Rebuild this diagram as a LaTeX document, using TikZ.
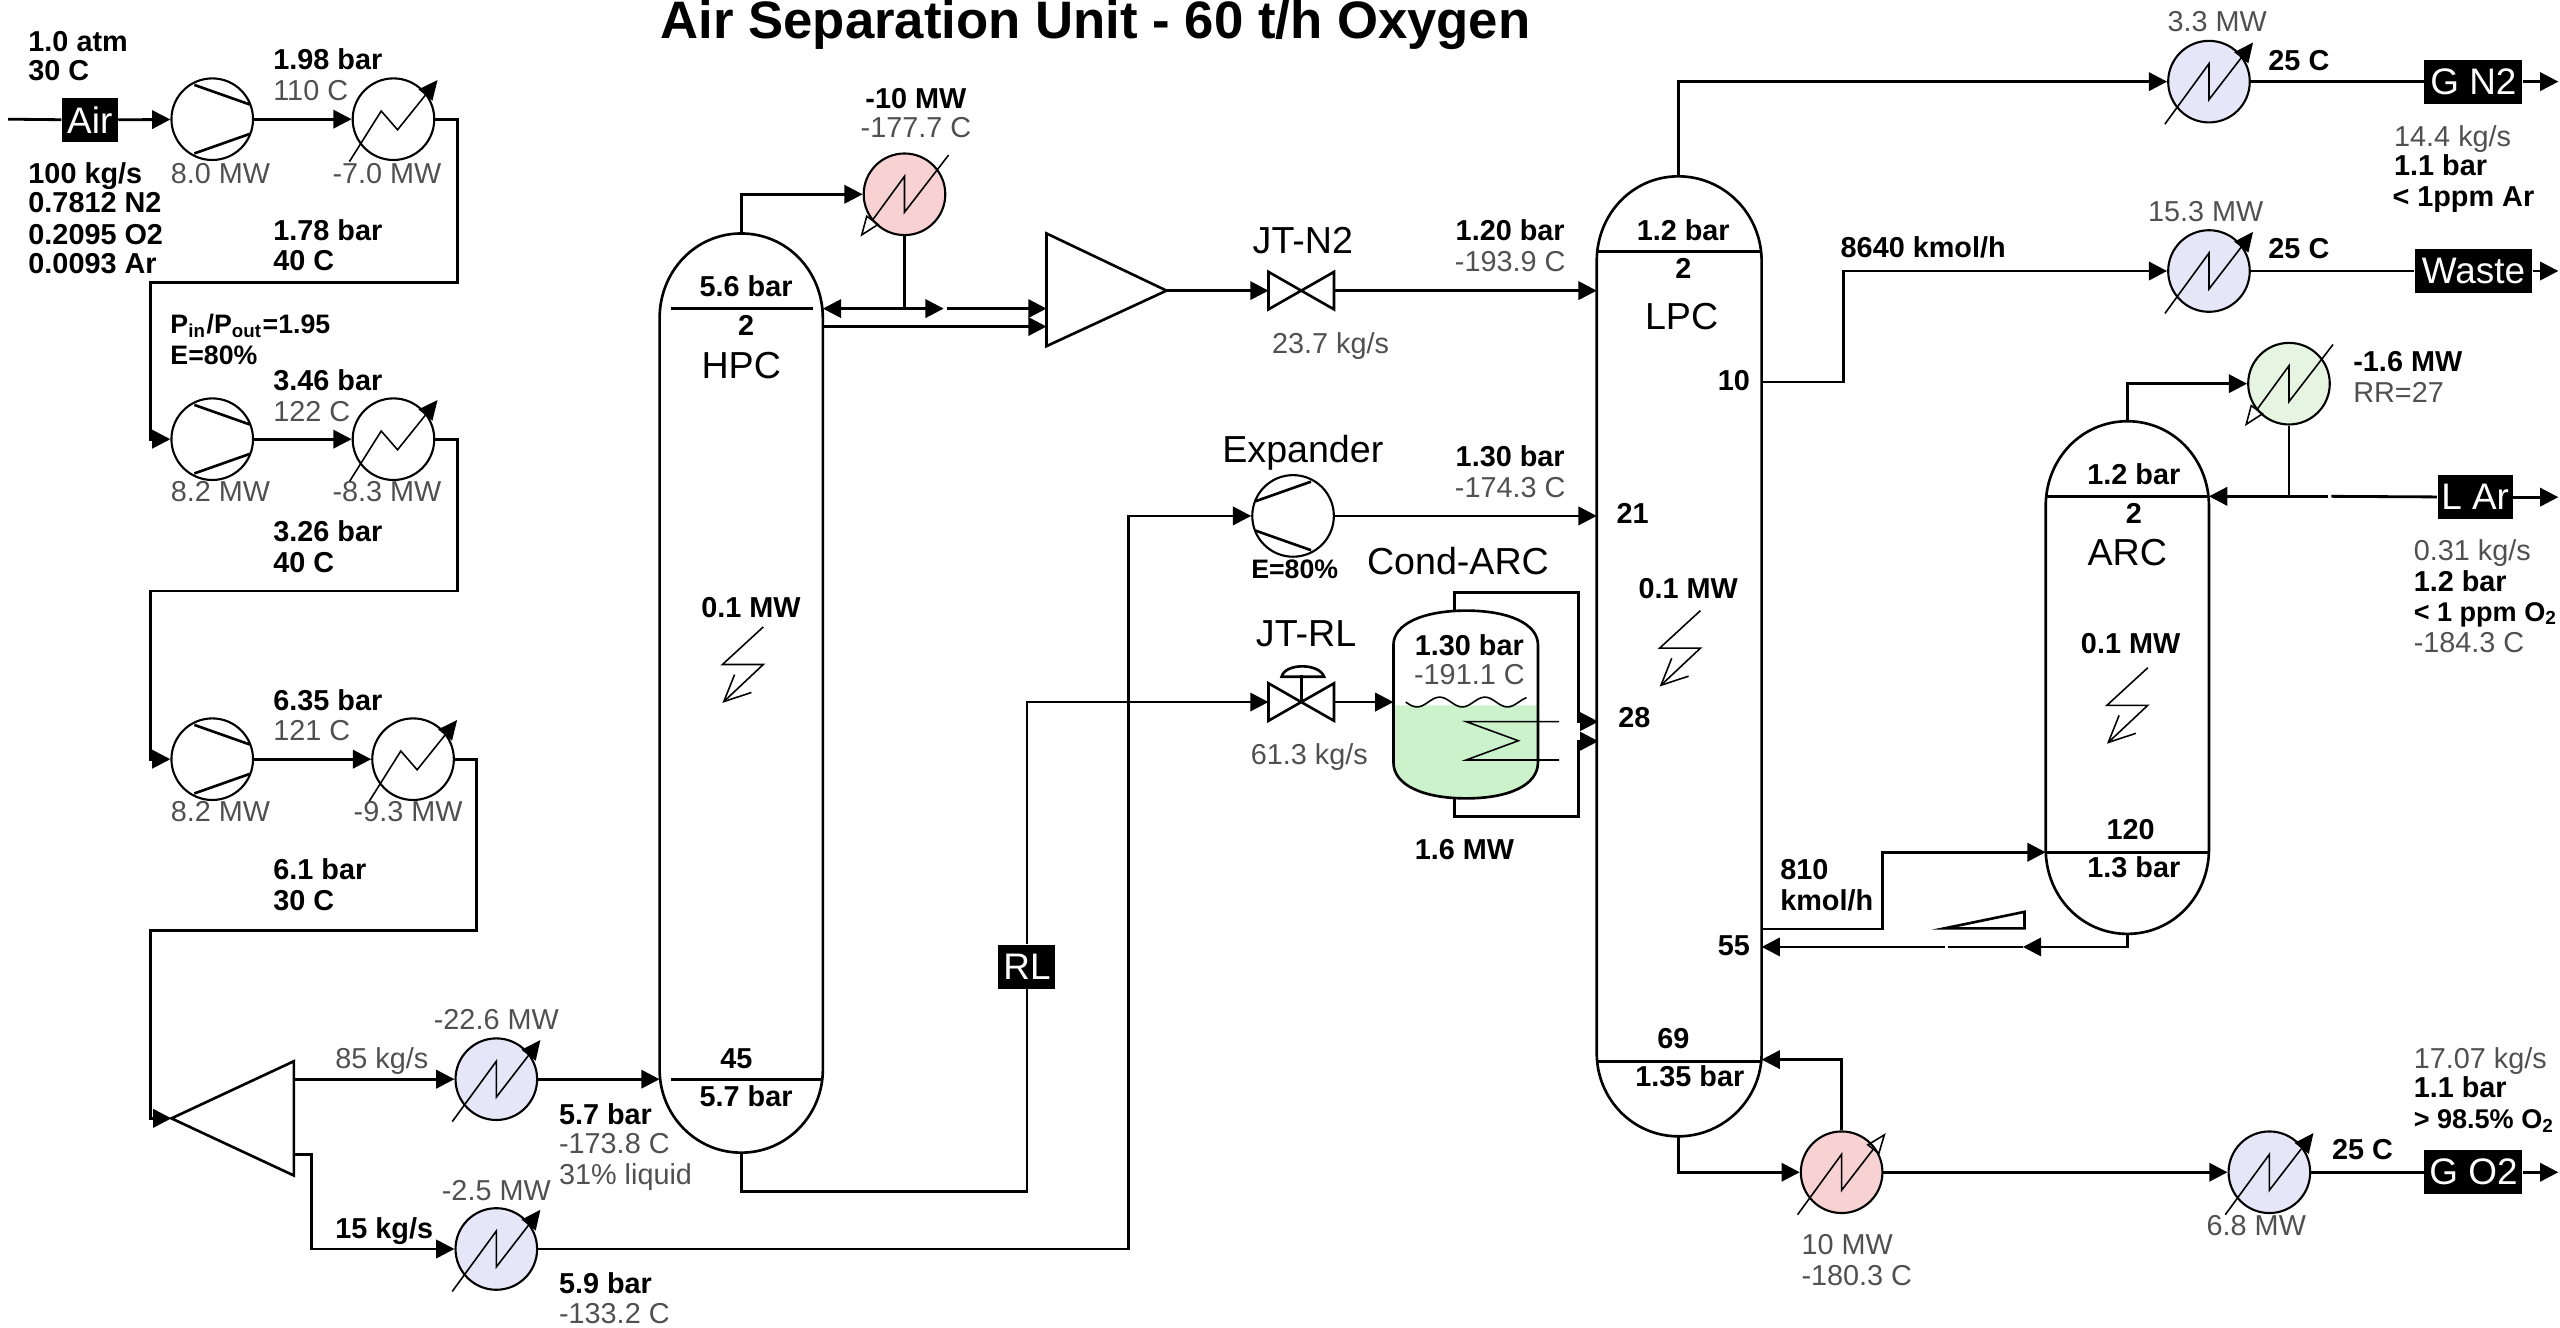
\documentclass[tikz,border=0pt]{standalone}
\usepackage{fontspec}
\setmainfont{Liberation Sans}
\usetikzlibrary{arrows.meta}
\definecolor{txtgray}{HTML}{505050}
\definecolor{hxblue}{HTML}{E6E6F8}
\definecolor{hxred}{HTML}{F8D2D2}
\definecolor{hxgreen}{HTML}{E6F4E2}
\definecolor{liquid}{HTML}{CBF2CB}
\tikzset{
  unit/.style={line width=0.75pt},
  line/.style={line width=0.8pt},
  flow/.style={line width=0.8pt,-{Triangle[length=5.2pt,width=5.2pt]}},
  coil/.style={line width=0.45pt},
  hx/.style={circle,draw,line width=0.6pt,inner sep=0pt,minimum size=0.816cm},
  valvebox/.style={inner sep=0pt,minimum width=0.64cm,minimum height=0.36cm},
  stream/.style={fill=black,text=white,inner sep=0pt,minimum height=0.44cm,font=\fontsize{10.5}{12}\selectfont},
  lb/.style={inner sep=0pt,text height=6pt,text depth=0pt,anchor=west,font=\fontsize{8.2}{10}\selectfont\bfseries},
  lv/.style={inner sep=0pt,text height=6pt,text depth=0pt,anchor=west,text=txtgray,font=\fontsize{8.2}{10}\selectfont},
  cb/.style={lb,anchor=center},
  cv/.style={lv,anchor=center},
  big/.style={inner sep=0pt,text height=7.5pt,text depth=0pt,font=\fontsize{10.7}{12}\selectfont},
}
\newcommand{\cooler}[3]{
  \node[hx,fill=#3] (#1) at (#2) {};
  \draw[coil,-{Triangle[length=5.5pt,width=5pt]}] ([shift={(-27,26)}]#1.center) -- ([shift={(0,-11)}]#1.center) -- ([shift={(0,11)}]#1.center) -- ([shift={(27,-24)}]#1.center);
}
\newcommand{\aircooler}[2]{
  \node[hx,fill=white] (#1) at (#2) {};
  \draw[coil,-{Triangle[length=5.5pt,width=5pt]}] ([shift={(-27,26)}]#1.center) -- ([shift={(-7.5,-5)}]#1.center) -- ([shift={(2.5,6.5)}]#1.center) -- ([shift={(27,-24)}]#1.center);
}
\newcommand{\reboiler}[3]{
  \node[hx,fill=#3] (#1) at (#2) {};
  \draw[coil,-{Triangle[open,length=6pt,width=4.5pt]}] ([shift={(-27,26)}]#1.center) -- ([shift={(0,-11)}]#1.center) -- ([shift={(0,11)}]#1.center) -- ([shift={(27,-24)}]#1.center);
}
\newcommand{\condenser}[3]{
  \node[hx,fill=#3] (#1) at (#2) {};
  \draw[coil,-{Triangle[open,length=6pt,width=4.5pt]}] ([shift={(27,-24)}]#1.center) -- ([shift={(0,11)}]#1.center) -- ([shift={(0,-11)}]#1.center) -- ([shift={(-27,26)}]#1.center);
}
\newcommand{\compressor}[2]{
  \node[hx] (#1) at (#2) {};
  \draw[unit] ([shift={(-11,-21)}]#1.center) -- ([shift={(23,-9)}]#1.center);
  \draw[unit] ([shift={(-11,21)}]#1.center) -- ([shift={(23,9)}]#1.center);
}
\newcommand{\heatleak}[2]{
  \coordinate (#1) at (#2);
  \draw[coil,-{Straight Barb[length=7.5pt,width=7pt]}] ([shift={(12.5,-23)}]#1) -- ([shift={(-12.5,0)}]#1) -- ([shift={(12.5,0)}]#1) -- ([shift={(-12.5,23.5)}]#1);
}
\begin{document}
\begin{tikzpicture}[x=0.0163265cm,y=-0.0163265cm]
\useasboundingbox (0,0) rectangle (1568,813);

% Title
\node[inner sep=0pt,text height=10.8pt,text depth=0pt,font=\fontsize{15}{17}\selectfont\bfseries] (title) at (671,12) {Air Separation Unit - 60 t/h Oxygen};

% Air train
\coordinate (airIn) at (5,73);
\node[stream,minimum width=0.555cm] (air) at (55,73.5) {Air};
\compressor{compA}{130,73}
\aircooler{coolA}{241,73}
\compressor{compB}{130,269}
\aircooler{coolB}{241,269}
\compressor{compC}{130,465}
\aircooler{coolC}{253,465}
\coordinate (jA1) at (280,173);
\coordinate (jA2) at (92,173);
\coordinate (jB1) at (280,362);
\coordinate (jB2) at (92,362);
\coordinate (jC1) at (292,570);
\coordinate (jC2) at (92,570);
\draw[line] (airIn) -- (air);
\draw[flow] (air) -- (compA);
\draw[flow] (compA) -- (coolA);
\draw[flow] (coolA) -| (jA1) -- (jA2) |- (compB);
\draw[flow] (compB) -- (coolB);
\draw[flow] (coolB) -| (jB1) -- (jB2) |- (compC);
\draw[flow] (compC) -- (coolC);

% Splitter
\coordinate (spIn) at (105,685);
\coordinate (spHi) at (180,661);
\coordinate (spLo) at (180,707);
\draw[unit] (spIn) -- (180,650) -- (180,720) -- cycle;
\draw[flow] (coolC) -| (jC1) -- (jC2) |- (spIn);
\cooler{coolD}{304,661}{hxblue}
\cooler{coolE}{304,765}{hxblue}
\coordinate (jS) at (191,740);
\coordinate (jE) at (691,400);
\draw[flow] (spHi) -- (coolD);
\draw[flow] (spLo) -| (jS) |- (coolE);

% HPC
\draw[unit] (404,195) .. controls (404,166) and (426,143) .. (454,143) .. controls (482,143) and (504,166) .. (504,195) -- (504,655) .. controls (504,683) and (482,706) .. (454,706) .. controls (426,706) and (404,683) .. (404,655) -- cycle;
\draw[unit] (411,189) -- (498,189);
\draw[unit] (411,661) -- (504,661);
\coordinate (hpcTop) at (454,143);
\coordinate (hpcBot) at (454,706);
\coordinate (hpcFeed) at (404,661);
\coordinate (hpcRefl) at (504,189);
\coordinate (hpcOut) at (504,200);
\heatleak{leakH}{455,407}
\draw[flow] (coolD) -- (hpcFeed);
\condenser{cdH}{554,119}{hxred}
\coordinate (hpcRet) at (554,189);
\coordinate (gapA) at (578,189);
\coordinate (gapB) at (580,189);
\draw[flow] (hpcTop) |- (cdH);
\draw[line] (cdH) -- (hpcRet);
\draw[flow] (hpcRet) -- (hpcRefl);
\draw[flow] (hpcRet) -- (gapA);

% Mixer and JT valve
\coordinate (mixA) at (641,189);
\coordinate (mixB) at (641,200);
\coordinate (mixOut) at (714.5,178);
\draw[unit] (641,143) -- (mixOut) -- (641,212) -- cycle;
\draw[flow] (gapB) -- (mixA);
\draw[flow] (hpcOut) -- (mixB);
\node[valvebox] (jtn) at (797,178) {};
\draw[unit] (jtn.south west) -- (jtn.north east) -- (jtn.south east) -- (jtn.north west) -- cycle;
\draw[flow] (mixOut) -- (jtn);

% LPC
\draw[unit] (978,160) .. controls (978,131) and (1000,108) .. (1028,108) .. controls (1056,108) and (1079,131) .. (1079,160) -- (1079,645) .. controls (1079,673) and (1056,696) .. (1028,696) .. controls (1000,696) and (978,673) .. (978,645) -- cycle;
\draw[unit] (978,154) -- (1079,154);
\draw[unit] (978,650) -- (1079,650);
\coordinate (lpcTop) at (1028,108);
\coordinate (lpcBot) at (1028,696);
\coordinate (lpcN) at (978,178);
\coordinate (lpcE) at (978,316);
\coordinate (lpcW) at (1079,234);
\coordinate (lpcD) at (1079,569);
\coordinate (lpcR) at (1079,580);
\coordinate (lpcB) at (1079,649);
\heatleak{leakL}{1029,397}
\draw[flow] (jtn) -- (lpcN);

% Expander
\node[hx] (expd) at (792,316) {};
\draw[unit] ([shift={(11,-21)}]expd.center) -- ([shift={(-23,-9)}]expd.center);
\draw[unit] ([shift={(11,21)}]expd.center) -- ([shift={(-23,9)}]expd.center);
\draw[flow] (coolE) -| (jE) |- (expd);
\draw[flow] (expd) -- (lpcE);

% Rich liquid
\node[stream,minimum width=0.57cm,font=\fontsize{10.5}{12}\selectfont] (rl) at (629,592) {RL};
\coordinate (jR) at (540,730);
\draw[line] (hpcBot) |- (jR) -| (rl);
\node[valvebox] (jtr) at (797,430) {};
\draw[unit] (jtr.south west) -- (jtr.north east) -- (jtr.south east) -- (jtr.north west) -- cycle;
\draw[unit] (jtr.center) -- (797,413.5);
\draw[unit] (785,414.5) .. controls (787,406) and (808,406) .. (811,414.5) -- cycle;
\draw[flow] (rl) |- (jtr);

% Cond-ARC
\fill[liquid] (853.5,432) -- (853.5,467) .. controls (853.5,481) and (872,489) .. (898,489) .. controls (924,489) and (942,481) .. (942,467) -- (942,432) -- cycle;
\draw[unit] (853.5,395) .. controls (853.5,382) and (872,374) .. (898,374) .. controls (924,374) and (942,382) .. (942,395) -- (942,467) .. controls (942,481) and (924,489) .. (898,489) .. controls (872,489) and (853.5,481) .. (853.5,467) -- cycle;
\draw[coil] plot[domain=861:935,samples=60] (\x,{430+3*sin(13*(\x-861))});
\draw[coil] (955,442) -- (898,442) -- (930,453.7) -- (898,465.5) -- (955,465.5);
\coordinate (tkIn) at (853.5,430);
\coordinate (tkTop) at (891,374);
\coordinate (tkBot) at (891,489);
\coordinate (tkA) at (967,363);
\coordinate (tkB) at (967,500);
\coordinate (lpcC) at (979,442);
\coordinate (lpcS) at (979,454);
\draw[flow] (jtr) -- (tkIn);
\draw[flow] (tkTop) |- (tkA) |- (lpcC);
\draw[flow] (tkBot) |- (tkB) |- (lpcS);

% ARC
\draw[unit] (1253,310) .. controls (1253,281) and (1275,258) .. (1303,258) .. controls (1331,258) and (1353,281) .. (1353,310) -- (1353,520) .. controls (1353,549) and (1331,572) .. (1303,572) .. controls (1275,572) and (1253,549) .. (1253,520) -- cycle;
\draw[unit] (1253,304) -- (1353,304);
\draw[unit] (1253,522) -- (1353,522);
\coordinate (arcTop) at (1303,258);
\coordinate (arcBot) at (1303,572);
\coordinate (arcF) at (1253,522);
\coordinate (arcR) at (1353,304);
\heatleak{leakA}{1303,432}
\coordinate (jD) at (1153,545);
\coordinate (pumpOut) at (1239,580);
\coordinate (gapC) at (1193,580);
\coordinate (gapD) at (1191,580);
\draw[flow] (lpcD) -| (jD) |- (arcF);
\draw[flow] (arcBot) |- (pumpOut);
\draw[line] (pumpOut) -- (gapC);
\draw[flow] (gapD) -- (lpcR);
\draw[unit] (1191,568.6) -- (1240,568.6) -- (1240,558.5) -- cycle;
\condenser{cdA}{1402,235}{hxgreen}
\coordinate (arJ) at (1402,304);
\coordinate (gapE) at (1428,304);
\coordinate (gapF) at (1426,304);
\coordinate (larOut) at (1567,304.5);
\node[stream,minimum width=0.75cm] (lar) at (1516,304.5) {L Ar};
\draw[flow] (arcTop) |- (cdA);
\draw[line] (cdA) -- (arJ);
\draw[line] (lar) -- (gapE);
\draw[flow] (gapF) -- (arcR);
\draw[flow] (lar) -- (larOut);

% Products
\cooler{hxN}{1353,50}{hxblue}
\cooler{hxW}{1353,166}{hxblue}
\reboiler{reb}{1128,718}{hxred}
\cooler{hxO}{1390,718}{hxblue}
\node[stream,minimum width=0.98cm] (gn) at (1515,50) {G N2};
\node[stream,minimum width=1.175cm] (waste) at (1515,166) {Waste};
\node[stream,minimum width=0.98cm] (go) at (1515,718) {G O2};
\coordinate (gnOut) at (1567,50);
\coordinate (wasteOut) at (1567,166);
\coordinate (goOut) at (1567,718);
\coordinate (jW) at (1129,200);
\draw[flow] (lpcTop) |- (hxN);
\draw[line] (hxN) -- (gn);
\draw[flow] (gn) -- (gnOut);
\draw[flow] (lpcW) -| (jW) |- (hxW);
\draw[line] (hxW) -- (waste);
\draw[flow] (waste) -- (wasteOut);
\draw[flow] (lpcBot) |- (reb);
\draw[flow] (reb) |- (lpcB);
\draw[flow] (reb) -- (hxO);
\draw[line] (hxO) -- (go);
\draw[flow] (go) -- (goOut);

% Labels air train
\node[lb] (tA1) at (17,25) {1.0 atm};
\node[lb] (tA2) at (17,43) {30 C};
\node[lb] (tA3) at (17,106) {100 kg/s};
\node[lb] (tA4) at (17,124) {0.7812 N2};
\node[lb] (tA5) at (17,143) {0.2095 O2};
\node[lb] (tA6) at (17,161) {0.0093 Ar};
\node[lb] (tB1) at (167,36) {1.98 bar};
\node[lv] (tB2) at (167,55) {110 C};
\node[cv] (tB3) at (135,106) {8.0 MW};
\node[cv] (tB4) at (237,106) {-7.0 MW};
\node[lb] (tB5) at (167,141) {1.78 bar};
\node[lb] (tB6) at (167,159) {40 C};
\node[lb,font=\fontsize{7.6}{9}\selectfont\bfseries] (tC1) at (104,198) {P\textsubscript{in}/P\textsubscript{out}=1.95};
\node[lb,font=\fontsize{7.6}{9}\selectfont\bfseries] (tC2) at (104,217) {E=80\%};
\node[lb] (tC3) at (167,233) {3.46 bar};
\node[lv] (tC4) at (167,252) {122 C};
\node[cv] (tC5) at (135,301) {8.2 MW};
\node[cv] (tC6) at (237,301) {-8.3 MW};
\node[lb] (tC7) at (167,325) {3.26 bar};
\node[lb] (tC8) at (167,344) {40 C};
\node[lb] (tD1) at (167,429) {6.35 bar};
\node[lv] (tD2) at (167,447) {121 C};
\node[cv] (tD3) at (135,497) {8.2 MW};
\node[cv] (tD4) at (250,497) {-9.3 MW};
\node[lb] (tD5) at (167,532) {6.1 bar};
\node[lb] (tD6) at (167,551) {30 C};

% Labels splitter branches
\node[lv] (tE1) at (205,648) {85 kg/s};
\node[cv] (tE2) at (304,624) {-22.6 MW};
\node[lb] (tE3) at (342,682) {5.7 bar};
\node[lv] (tE4) at (342,700) {-173.8 C};
\node[lv] (tE5) at (342,719) {31\% liquid};
\node[cv] (tE6) at (304,729) {-2.5 MW};
\node[lb] (tE7) at (205,752) {15 kg/s};
\node[lb] (tE8) at (342,786) {5.9 bar};
\node[lv] (tE9) at (342,804) {-133.2 C};

% Labels HPC
\node[cb] (tH1) at (457,175) {5.6 bar};
\node[cb] (tH2) at (457,199) {2};
\node[big] (tH3) at (454,224) {HPC};
\node[cb] (tH4) at (460,372) {0.1 MW};
\node[cb] (tH5) at (451,648) {45};
\node[cb] (tH6) at (457,671) {5.7 bar};
\node[cb] (tH7) at (561,60) {-10 MW};
\node[cv] (tH8) at (561,78) {-177.7 C};

% Labels middle
\node[big] (tM1) at (798,147) {JT-N2};
\node[cv] (tM2) at (815,210) {23.7 kg/s};
\node[cb] (tM3) at (925,141) {1.20 bar};
\node[cv] (tM4) at (925,160) {-193.9 C};
\node[big] (tM5) at (798,275) {Expander};
\node[cb] (tM6) at (925,279) {1.30 bar};
\node[cv] (tM7) at (925,298) {-174.3 C};
\node[cb,font=\fontsize{7.6}{9}\selectfont\bfseries] (tM8) at (793,348) {E=80\%};
\node[big] (tM9) at (893,344) {Cond-ARC};
\node[big] (tM10) at (800,388) {JT-RL};
\node[cv] (tM11) at (802,462) {61.3 kg/s};
\node[cb] (tM12) at (900,395) {1.30 bar};
\node[cv] (tM13) at (900,413) {-191.1 C};
\node[cb] (tM14) at (897,520) {1.6 MW};

% Labels LPC
\node[cb] (tL1) at (1031,141) {1.2 bar};
\node[cb] (tL2) at (1031,164) {2};
\node[big] (tL3) at (1030,194) {LPC};
\node[cb] (tL4) at (1062,233) {10};
\node[cb] (tL5) at (1000,314) {21};
\node[cb] (tL6) at (1034,360) {0.1 MW};
\node[cb] (tL7) at (1001,439) {28};
\node[cb] (tL8) at (1062,579) {55};
\node[cb] (tL9) at (1025,636) {69};
\node[cb] (tL10) at (1035,659) {1.35 bar};
\node[lb] (tL11) at (1127,151) {8640 kmol/h};
\node[lb] (tL12) at (1090,532) {810};
\node[lb] (tL13) at (1090,551) {kmol/h};

% Labels ARC
\node[cb] (tR1) at (1307,290) {1.2 bar};
\node[cb] (tR2) at (1307,314) {2};
\node[big] (tR3) at (1303,338) {ARC};
\node[cb] (tR4) at (1305,394) {0.1 MW};
\node[cb] (tR5) at (1305,508) {120};
\node[cb] (tR6) at (1307,531) {1.3 bar};
\node[lb] (tR7) at (1441,221) {-1.6 MW};
\node[lv] (tR8) at (1441,240) {RR=27};

% Labels products
\node[cv] (tP1) at (1358,13) {3.3 MW};
\node[lb] (tP2) at (1389,37) {25 C};
\node[lv] (tP3) at (1466,83) {14.4 kg/s};
\node[lb] (tP4) at (1466,101) {1.1 bar};
\node[lb] (tP5) at (1465,120) {< 1ppm Ar};
\node[cv] (tP6) at (1351,129) {15.3 MW};
\node[lb] (tP7) at (1389,152) {25 C};
\node[lv] (tP8) at (1478,337) {0.31 kg/s};
\node[lb] (tP9) at (1478,356) {1.2 bar};
\node[lb,font=\fontsize{7.7}{9}\selectfont\bfseries] (tP10) at (1478,374) {< 1 ppm O\textsubscript{2}};
\node[lv] (tP11) at (1478,393) {-184.3 C};
\node[lv] (tP12) at (1478,648) {17.07 kg/s};
\node[lb] (tP13) at (1478,666) {1.1 bar};
\node[lb,font=\fontsize{7.7}{9}\selectfont\bfseries] (tP14) at (1478,685) {> 98.5\% O\textsubscript{2}};
\node[lb] (tP15) at (1428,704) {25 C};
\node[cv] (tP16) at (1382,750) {6.8 MW};
\node[lv] (tP17) at (1103,762) {10 MW};
\node[lv] (tP18) at (1103,781) {-180.3 C};
\end{tikzpicture}
\end{document}
